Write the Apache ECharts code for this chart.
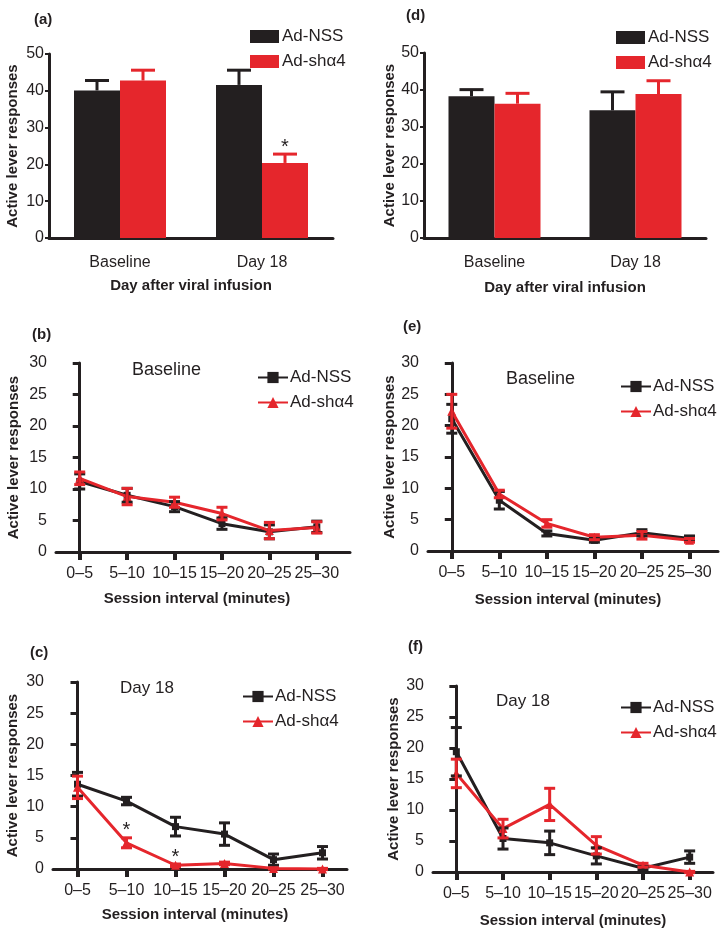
<!DOCTYPE html>
<html><head><meta charset="utf-8">
<script src="https://cdn.jsdelivr.net/npm/echarts@6/dist/echarts.min.js"></script>
<style>html,body{margin:0;padding:0;background:#fff}#c{width:726px;height:934px}</style>
</head><body><div id="c"></div><script>
// ---------- data ----------
const barCats = ['Baseline', 'Day 18'];
const sessCats = ['0–5', '5–10', '10–15', '15–20', '20–25', '25–30'];
const yTitle = 'Active lever responses';
const barXTitle = 'Day after viral infusion';
const lineXTitle = 'Session interval (minutes)';
const nssName = 'Ad-NSS';
const shName = 'Ad-shα4';
const barTicks = [0, 10, 20, 30, 40, 50];
const lineTicks = [0, 5, 10, 15, 20, 25, 30];

// (a) bars
const aNss = [40.1, 41.6];
const aNssErr = [2.7, 4.0];
const aSh = [42.8, 20.4];
const aShErr = [2.8, 2.4];
const aShSig = [0, 1];
// (d) bars
const dNss = [38.3, 34.5];
const dNssErr = [1.8, 5.0];
const dSh = [36.3, 38.9];
const dShErr = [2.8, 3.6];
// (b) baseline lines
const bNss = [11.2, 9.0, 7.2, 4.5, 3.2, 4.0];
const bNssErr = [1.2, 1.1, 0.8, 0.9, 1.1, 0.9];
const bSh = [11.7, 8.8, 7.9, 6.1, 3.4, 3.9];
const bShErr = [1.0, 1.3, 0.8, 1.0, 1.3, 0.9];
// (e) baseline lines
const eNss = [21.1, 8.1, 2.8, 1.7, 2.9, 2.0];
const eNssErr = [2.3, 1.4, 0.4, 0.3, 0.5, 0.4];
const eSh = [22.3, 9.1, 4.4, 2.2, 2.5, 1.7];
const eShErr = [2.7, 0.6, 0.6, 0.4, 0.6, 0.3];
// (c) day 18 lines
const cNss = [13.6, 10.9, 6.8, 5.6, 1.5, 2.6];
const cNssErr = [1.9, 0.6, 1.5, 1.8, 0.9, 1.0];
const cSh = [13.1, 4.2, 0.6, 0.9, 0.1, 0];
const cShErr = [1.8, 0.8, 0.2, 0.2, 0.1, 0.1];
const cShSig = [0, 1, 1, 0, 0, 0];
// (f) day 18 lines
const fNss = [19.4, 5.4, 4.7, 2.6, 0.6, 2.4];
const fNssErr = [3.9, 1.7, 1.9, 1.3, 0.3, 1.0];
const fSh = [15.9, 7.0, 10.9, 4.3, 1.1, 0];
const fShErr = [2.3, 1.5, 2.6, 1.4, 0.3, 0.1];

// ---------- style ----------
const FONT = 'Liberation Sans';
const BLACK = '#231f20';
const RED = '#e5262c';
const catIdx = sessCats.map((_, i) => i);

function barErrRender(offset, sig) {
  return function (params, api) {
    const i = api.value(0), v = api.value(1), e = api.value(2);
    const base = api.coord([i, v]);
    const top = api.coord([i, v + e]);
    const x = base[0] + offset;
    const cap = 12;
    const st = { stroke: api.visual('color'), lineWidth: 3 };
    const ch = [
      { type: 'line', shape: { x1: x, y1: base[1], x2: x, y2: top[1] }, style: st },
      { type: 'line', shape: { x1: x - cap, y1: top[1], x2: x + cap, y2: top[1] }, style: st }
    ];
    if (sig && sig[i]) ch.push({ type: 'text', x: x, y: top[1] - 7,
      style: { text: '*', fontSize: 20, fontFamily: FONT, fill: BLACK, align: 'center', verticalAlign: 'middle' } });
    return { type: 'group', children: ch };
  };
}
function lineErrRender(sig) {
  return function (params, api) {
    const i = api.value(0), v = api.value(1), e = api.value(2);
    const lo = api.coord([i, v - e]);
    const hi = api.coord([i, v + e]);
    const x = lo[0], cap = 5.5;
    const st = { stroke: api.visual('color'), lineWidth: 3 };
    const ch = [
      { type: 'line', shape: { x1: x, y1: lo[1], x2: x, y2: hi[1] }, style: st },
      { type: 'line', shape: { x1: x - cap, y1: lo[1], x2: x + cap, y2: lo[1] }, style: st },
      { type: 'line', shape: { x1: x - cap, y1: hi[1], x2: x + cap, y2: hi[1] }, style: st }
    ];
    if (sig && sig[i]) ch.push({ type: 'text', x: x, y: hi[1] - 7,
      style: { text: '*', fontSize: 20, fontFamily: FONT, fill: BLACK, align: 'center', verticalAlign: 'middle' } });
    return { type: 'group', children: ch };
  };
}

const grids = [
  { left: 49, top: 54, width: 284, height: 184 },   // a
  { left: 424, top: 53, width: 282, height: 185 },  // d
  { left: 56, top: 363, width: 294, height: 189 },  // b
  { left: 428, top: 363, width: 290, height: 188 }, // e
  { left: 53, top: 682, width: 294, height: 187 },  // c
  { left: 433, top: 686, width: 280, height: 186 }  // f
];

function yAxisCfg(gi, ticks, isLine, nameGap) {
  return {
    type: 'value', gridIndex: gi, min: ticks[0], max: ticks[ticks.length - 1],
    interval: ticks[1] - ticks[0],
    name: yTitle, nameLocation: 'middle', nameGap: nameGap,
    nameTextStyle: { fontSize: 15, fontWeight: 'bold', fontFamily: FONT, color: BLACK },
    axisLine: { show: true, lineStyle: { color: BLACK, width: 3 } },
    axisTick: { show: true, length: isLine ? 7 : 4, lineStyle: { color: BLACK, width: isLine ? 3 : 2 } },
    axisLabel: { fontSize: 16, fontFamily: FONT, color: BLACK, margin: isLine ? 9 : 5 },
    splitLine: { show: false }
  };
}
function barXCfg(gi, nameGap) {
  return {
    type: 'category', gridIndex: gi, data: barCats,
    name: barXTitle, nameLocation: 'middle', nameGap: nameGap,
    nameTextStyle: { fontSize: 15, fontWeight: 'bold', fontFamily: FONT, color: BLACK },
    axisLine: { show: true, lineStyle: { color: BLACK, width: 3 } },
    axisTick: { show: false },
    axisLabel: { fontSize: 16, fontFamily: FONT, color: BLACK, margin: 17 }
  };
}
function lineXCfg(gi, max, nameGap, shift) {
  return {
    type: 'value', gridIndex: gi, min: -0.5, max: max,
    name: lineXTitle, nameLocation: 'middle', nameGap: nameGap,
    nameTextStyle: { fontSize: 15, fontWeight: 'bold', fontFamily: FONT, color: BLACK, padding: [0, shift, 0, 0] },
    axisLine: { show: true, onZero: false, lineStyle: { color: BLACK, width: 3 } },
    axisTick: { show: true, customValues: catIdx, length: 8, lineStyle: { color: BLACK, width: 4 } },
    axisLabel: { customValues: catIdx, formatter: v => sessCats[v], fontSize: 16, fontFamily: FONT, color: BLACK, margin: 14 },
    splitLine: { show: false }
  };
}

const xAxes = [
  barXCfg(0, 40), barXCfg(1, 42),
  lineXCfg(2, 5.7, 39, 12), lineXCfg(3, 5.6, 41, 10),
  lineXCfg(4, 5.5, 38, 10), lineXCfg(5, 5.5, 41, 0)
];
const yAxes = [
  yAxisCfg(0, barTicks, false, 29), yAxisCfg(1, barTicks, false, 26),
  yAxisCfg(2, lineTicks, true, 35), yAxisCfg(3, lineTicks, true, 30),
  yAxisCfg(4, lineTicks, true, 33), yAxisCfg(5, lineTicks, true, 32)
];

const series = [];
function addBars(ai, nss, nssErr, sh, shErr, shSig) {
  series.push({ type: 'bar', name: nssName, xAxisIndex: ai, yAxisIndex: ai, data: nss,
    barWidth: 46, barGap: '0%', itemStyle: { color: BLACK } });
  series.push({ type: 'bar', name: shName, xAxisIndex: ai, yAxisIndex: ai, data: sh,
    barWidth: 46, barGap: '0%', itemStyle: { color: RED } });
  series.push({ type: 'custom', name: 'errN' + ai, xAxisIndex: ai, yAxisIndex: ai, z: 5,
    itemStyle: { color: BLACK }, encode: { x: 0, y: 1 },
    data: nss.map((v, i) => [i, v, nssErr[i]]), renderItem: barErrRender(-23, null) });
  series.push({ type: 'custom', name: 'errS' + ai, xAxisIndex: ai, yAxisIndex: ai, z: 5,
    itemStyle: { color: RED }, encode: { x: 0, y: 1 },
    data: sh.map((v, i) => [i, v, shErr[i]]), renderItem: barErrRender(23, shSig) });
}
function addLines(ai, nss, nssErr, sh, shErr, shSig) {
  series.push({ type: 'line', name: nssName + ' ', xAxisIndex: ai, yAxisIndex: ai,
    data: nss.map((v, i) => [i, v]), symbol: 'rect', symbolSize: 7, showAllSymbol: true,
    lineStyle: { color: BLACK, width: 3 }, itemStyle: { color: BLACK }, z: 3 });
  series.push({ type: 'line', name: shName + ' ', xAxisIndex: ai, yAxisIndex: ai,
    data: sh.map((v, i) => [i, v]), symbol: 'triangle', symbolSize: 9, showAllSymbol: true,
    lineStyle: { color: RED, width: 3 }, itemStyle: { color: RED }, z: 4 });
  series.push({ type: 'custom', name: 'errN' + ai, xAxisIndex: ai, yAxisIndex: ai, z: 5,
    itemStyle: { color: BLACK }, encode: { x: 0, y: 1 },
    data: nss.map((v, i) => [i, v, nssErr[i]]), renderItem: lineErrRender(null) });
  series.push({ type: 'custom', name: 'errS' + ai, xAxisIndex: ai, yAxisIndex: ai, z: 6,
    itemStyle: { color: RED }, encode: { x: 0, y: 1 },
    data: sh.map((v, i) => [i, v, shErr[i]]), renderItem: lineErrRender(shSig) });
}
addBars(0, aNss, aNssErr, aSh, aShErr, aShSig);
addBars(1, dNss, dNssErr, dSh, dShErr, null);
addLines(2, bNss, bNssErr, bSh, bShErr, null);
addLines(3, eNss, eNssErr, eSh, eShErr, null);
addLines(4, cNss, cNssErr, cSh, cShErr, cShSig);
addLines(5, fNss, fNssErr, fSh, fShErr, null);

function barLegend(left, top) {
  return { left, top, orient: 'vertical', padding: 0, itemGap: 8, itemWidth: 29, itemHeight: 13,
    icon: 'rect', selectedMode: false, data: [nssName, shName],
    textStyle: { fontSize: 17, fontFamily: FONT, color: BLACK, padding: [0, 0, 0, -2] } };
}
function lineLegend(left, top) {
  return { left, top, orient: 'vertical', padding: 0, itemGap: 8, itemWidth: 30, itemHeight: 14,
    selectedMode: false, data: [nssName + ' ', shName + ' '],
    textStyle: { fontSize: 17, fontFamily: FONT, color: BLACK, padding: [0, 0, 0, -3] } };
}
function txt(text, left, top, size, bold) {
  return { text, left, top, padding: 0,
    textStyle: { fontSize: size, fontWeight: bold ? 'bold' : 'normal', fontFamily: FONT, color: BLACK } };
}

const option = {
  animation: false,
  backgroundColor: '#ffffff',
  grid: grids,
  xAxis: xAxes,
  yAxis: yAxes,
  series: series,
  legend: [
    barLegend(250, 28), barLegend(616, 29),
    lineLegend(257, 369), lineLegend(620, 378),
    lineLegend(242, 688), lineLegend(620, 699)
  ],
  title: [
    txt('(a)', 34, 12, 15, true), txt('(d)', 406, 8, 15, true),
    txt('(b)', 32, 327, 15, true), txt('(e)', 403, 319, 15, true),
    txt('(c)', 30, 645, 15, true), txt('(f)', 408, 639, 15, true),
    txt('Baseline', 132, 361, 18, false), txt('Baseline', 506, 370, 18, false),
    txt('Day 18', 120, 680, 17, false), txt('Day 18', 496, 693, 17, false)
  ]
};
const chart = echarts.init(document.getElementById('c'), null, { renderer: 'canvas' });
chart.setOption(option);
</script></body></html>
